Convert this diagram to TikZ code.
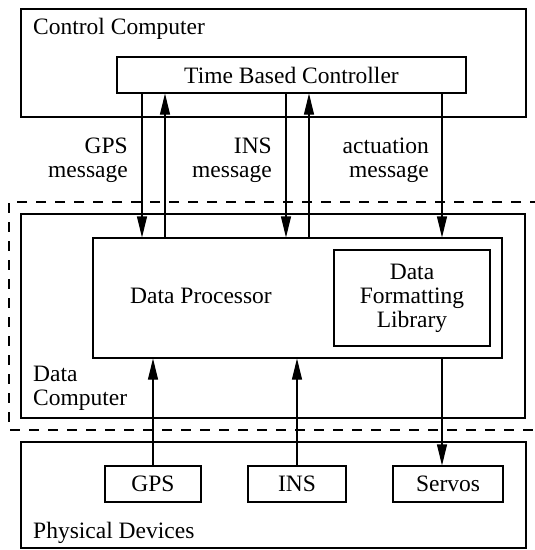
\documentclass[tikz,border=0pt]{standalone}
\usepackage{fontspec}
\setmainfont{Liberation Serif}
\newfontfamily\diagfont{Liberation Serif}
\usetikzlibrary{arrows.meta}
\begin{document}
\begin{tikzpicture}[x=1pt,y=-1pt,
  every node/.style={font=\diagfont\fontsize{23.5}{24}\selectfont},
  box/.style={draw,line width=1.1pt,rectangle,inner sep=0pt},
  lbl/.style={inner sep=0pt},
  link/.style={line width=1.1pt,-{Triangle[length=21pt,width=10pt]}},
  zone/.style={line width=1.1pt,dash pattern=on 10pt off 9pt}]
\useasboundingbox (0,0) rectangle (535,550);

% outer boxes
\node[box,minimum width=505pt,minimum height=108pt] (cc) at (273.5,63) {};
\node[box,minimum width=504pt,minimum height=204pt] (dc) at (273,316) {};
\node[box,minimum width=505pt,minimum height=106pt] (pd) at (273.5,495) {};

% dashed boundary of the data computer
\draw[zone] (540,202) -- (9,202) -- (9,430) -- (540,430);

% inner components
\node[box,minimum width=349pt,minimum height=36pt] (tbc) at (291.5,75) {Time Based Controller};
\node[box,minimum width=409pt,minimum height=120pt] (dp) at (297.5,298) {};
\node[box,minimum width=156pt,minimum height=96pt,align=center] (dfl) at (412,298) {Data\\Formatting\\Library};
\node[lbl,anchor=base] (dptext) at (201,303) {Data Processor};

\node[box,minimum width=96pt,minimum height=36pt] (gps) at (153,484) {GPS};
\node[box,minimum width=98pt,minimum height=36pt] (ins) at (297,484) {INS};
\node[box,minimum width=110pt,minimum height=36pt] (servos) at (448,484) {Servos};

% container titles
\node[lbl,anchor=base west] (cctitle) at (33,34) {Control Computer};
\node[lbl,anchor=north west,align=left] (dctitle) at (33,366) {Data\\Computer};
\node[lbl,anchor=base west] (pdtitle) at (33,538) {Physical Devices};

% message labels
\node[lbl,anchor=north east,align=right] (gpsmsg) at (128,138) {GPS\\message};
\node[lbl,anchor=north east,align=right] (insmsg) at (272,138) {INS\\message};
\node[lbl,anchor=north east,align=right] (actmsg) at (429,137.5) {actuation\\message};

% connector columns
\coordinate (xg1) at (142,0);
\coordinate (xg2) at (165,0);
\coordinate (xi1) at (286,0);
\coordinate (xi2) at (309,0);
\coordinate (xa) at (442,0);

% controller <-> data processor
\draw[link] (xg1 |- tbc.south) -- (xg1 |- dp.north);
\draw[link] (xg2 |- dp.north) -- (xg2 |- tbc.south);
\draw[link] (xi1 |- tbc.south) -- (xi1 |- dp.north);
\draw[link] (xi2 |- dp.north) -- (xi2 |- tbc.south);
\draw[link] (xa |- tbc.south) -- (xa |- dp.north);

% devices <-> data processor
\draw[link] (gps.north) -- (gps.north |- dp.south);
\draw[link] (ins.north) -- (ins.north |- dp.south);
\draw[link] (xa |- dp.south) -- (xa |- servos.north);
\end{tikzpicture}
\end{document}
